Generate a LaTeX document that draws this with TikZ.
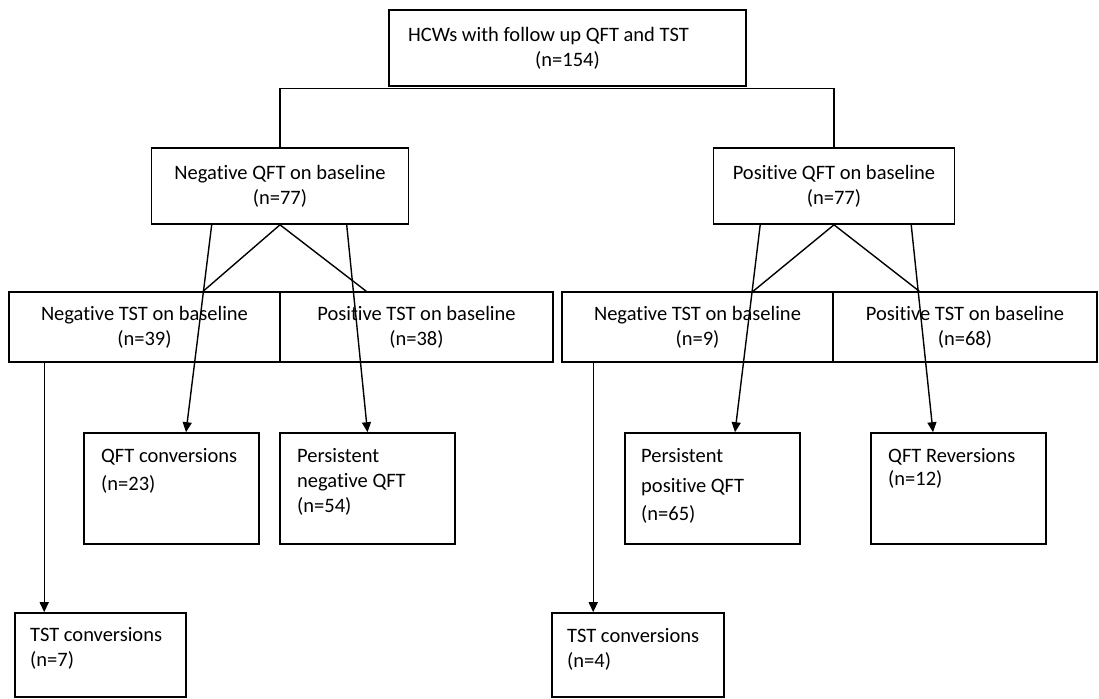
\documentclass[tikz,border=0pt]{standalone}
\usepackage{fontspec}
\setmainfont{Carlito}[Ligatures=NoCommon]
\usetikzlibrary{arrows.meta,calc}
\tikzset{
  box/.style={draw, line width=1.6pt, inner sep=0pt, align=center},
  txt/.style={inner sep=0pt, anchor=base west},
  conn/.style={line width=1.4pt},
  arr/.style={line width=1.4pt, -{Triangle[length=10pt,width=9pt]}}
}
\begin{document}
\begin{tikzpicture}[x=1pt,y=-1pt,font=\fontsize{20.5}{25}\selectfont]
\useasboundingbox (0,0) rectangle (1099,698);
% top
\node[box, minimum width=357pt, minimum height=76pt] (top) at (567.5,48) {HCWs with follow up QFT and TST\hspace*{38pt}\\(n=154)};
% QFT level
\node[box, minimum width=257pt, minimum height=76pt] (nqft) at (280,186) {Negative QFT on baseline\\(n=77)};
\node[box, minimum width=241pt, minimum height=76pt] (pqft) at (834,186) {Positive QFT on baseline\\(n=77)};
% TST level
\node[box, minimum width=271pt, minimum height=70pt] (ntstl) at (144.5,327) {Negative TST on baseline\\(n=39)};
\node[box, minimum width=273pt, minimum height=70pt] (ptstl) at (416.5,327) {Positive TST on baseline\\(n=38)};
\node[box, minimum width=271pt, minimum height=70pt] (ntstr) at (697.5,327) {Negative TST on baseline\\(n=9)};
\node[box, minimum width=264pt, minimum height=70pt] (ptstr) at (965,327) {Positive TST on baseline\\(n=68)};
% outcome boxes
\node[box, minimum width=175pt, minimum height=111pt] (qc) at (171.5,488.5) {};
\node[box, minimum width=175pt, minimum height=111pt] (pn) at (367.5,488.5) {};
\node[box, minimum width=175pt, minimum height=111pt] (pp) at (712.5,488.5) {};
\node[box, minimum width=175pt, minimum height=111pt] (qr) at (958.5,488.5) {};
\node[box, minimum width=171pt, minimum height=84pt] (tcl) at (100.5,655) {};
\node[box, minimum width=172pt, minimum height=84pt] (tcr) at (638,655) {};
% texts in outcome boxes
\node[txt] (qc1) at (101,462) {QFT conversions};
\node[txt] (qc2) at (101,490) {(n=23)};
\node[txt] (pn1) at (297,462) {Persistent};
\node[txt] (pn2) at (297,487) {negative QFT};
\node[txt] (pn3) at (297,512) {(n=54)};
\node[txt] (pp1) at (641,462) {Persistent};
\node[txt] (pp2) at (641,492) {positive QFT};
\node[txt] (pp3) at (641,520) {(n=65)};
\node[txt] (qr1) at (888,462) {QFT Reversions};
\node[txt] (qr2) at (888,485) {(n=12)};
\node[txt] (tl1) at (30,641) {TST conversions};
\node[txt] (tl2) at (30,666) {(n=7)};
\node[txt] (tr1) at (567,642) {TST conversions};
\node[txt] (tr2) at (567,667) {(n=4)};
% tree from top
\coordinate (bar) at ($(top.south)+(0,2)$);
\draw[conn] (nqft.north) |- (bar) -| (pqft.north);
% V lines
\draw[conn] ($(ntstl.north west)+(195,0)$) -- (nqft.south) -- ($(ptstl.north west)+(87,0)$);
\draw[conn] ($(ntstr.north west)+(192,0)$) -- (pqft.south) -- ($(ptstr.north west)+(87,0)$);
% arrows
\draw[arr] ($(nqft.south west)+(61,0)$) -- ($(qc.north)+(14.5,0)$);
\draw[arr] ($(nqft.south west)+(196,0)$) -- (pn.north);
\draw[arr] ($(pqft.south west)+(47.5,0)$) -- ($(pp.north)+(22.5,0)$);
\draw[arr] ($(pqft.south west)+(198.5,0)$) -- ($(qr.north)+(-25.5,0)$);
\draw[arr] ($(ntstl.south west)+(36,0)$) -- ($(tcl.north west)+(30,0)$);
\draw[arr] ($(ntstr.south west)+(32,0)$) -- ($(tcr.north west)+(42,0)$);
\end{tikzpicture}
\end{document}
